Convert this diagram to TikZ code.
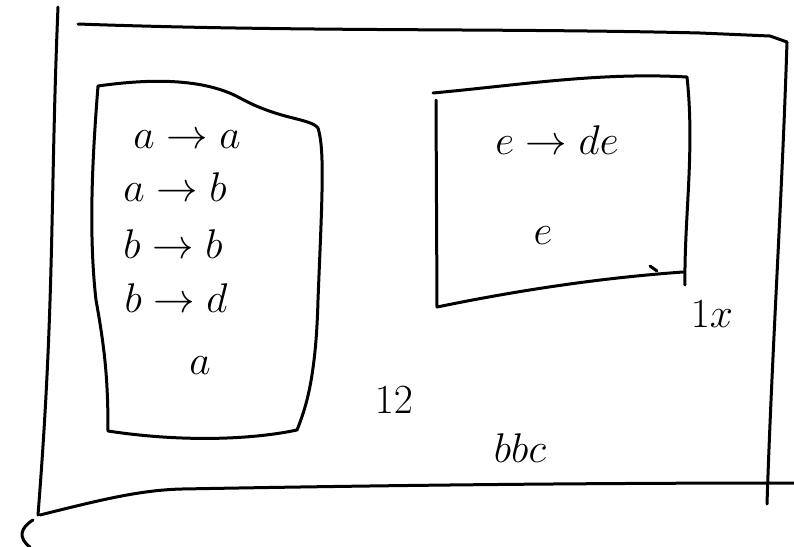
\documentclass[tikz,border=0pt]{standalone}
\usepackage{amsmath,amssymb}
\usetikzlibrary{arrows.meta,positioning}

\begin{document}
\begin{tikzpicture}[x=0.5pt,y=-0.5pt]
\tikzset{
  sketchline/.style={draw=black,line width=1.5pt,line cap=round,line join=round},
  sketchtext/.style={inner sep=0pt,font=\fontsize{22}{24}\selectfont}
}
\useasboundingbox (0,0) rectangle (794,547);
% outer frame
\draw[sketchline] (58,7) .. controls (50,200) and (55,300) .. (38,515);
\draw[sketchline] (78,24) .. controls (300,32) and (500,28) .. (700,33) -- (770,36) -- (787,42);
\draw[sketchline] (787,42) .. controls (782,200) and (772,350) .. (767,504);
\draw[sketchline] (40,515) .. controls (100,500) and (140,490) .. (182,489) .. controls (400,485) and (600,483) .. (794,483);
\draw[sketchline] (33,520) .. controls (20,528) and (18,538) .. (30,547);
% left box
\draw[sketchline] (98,86) .. controls (140,80) and (200,76) .. (240,98) .. controls (280,120) and (310,118) .. (318,128)
  .. controls (325,150) and (322,200) .. (318,300) .. controls (316,380) and (305,410) .. (297,430)
  .. controls (250,440) and (180,442) .. (108,431) .. controls (108,380) and (105,350) .. (96,300)
  .. controls (88,230) and (93,150) .. (98,86);
% right box
\draw[sketchline] (436,100) -- (437,307) .. controls (520,290) and (600,278) .. (683,272);
\draw[sketchline] (433,93) .. controls (520,85) and (600,72) .. (687,77) .. controls (695,150) and (684,220) .. (685,285);
\draw[sketchline] (650,266) -- (657,271);
% labels
\node[sketchtext] (rule_aa) at (187,140) {$a\to a$};
\node[sketchtext] (rule_ab) at (175,187) {$a\to b$};
\node[sketchtext] (rule_bb) at (173,244) {$b\to b$};
\node[sketchtext] (rule_bd) at (176,298) {$b\to d$};
\node[sketchtext] (start_a) at (200,366) {$a$};
\node[sketchtext] (rule_ede) at (557,140) {$e\to de$};
\node[sketchtext] (start_e) at (543,236) {$e$};
\node[sketchtext] (lbl_right) at (712,314) {$1x$};
\node[sketchtext] (lbl_mid) at (394,400) {$12$};
\node[sketchtext] (lbl_word) at (520,448) {$bbc$};
\end{tikzpicture}
\end{document}
